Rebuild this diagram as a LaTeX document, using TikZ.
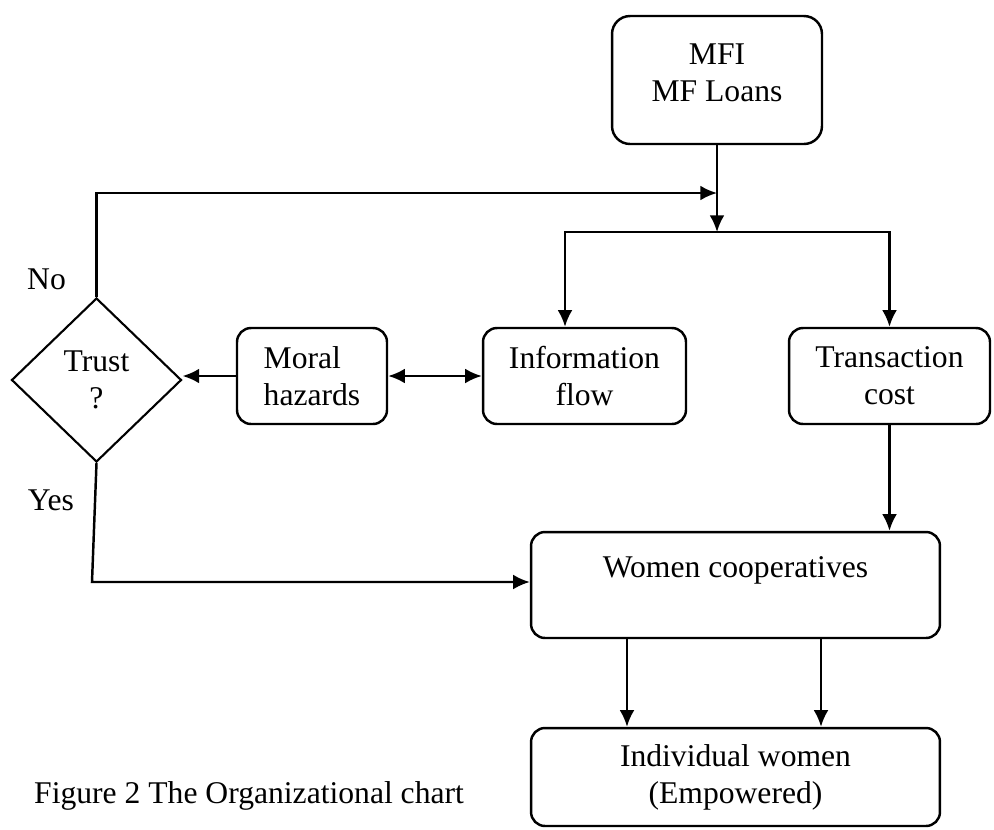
\documentclass[tikz,border=0pt]{standalone}
\usepackage{fontspec}
\setmainfont{Liberation Serif}
\usetikzlibrary{shapes.geometric,calc,arrows.meta}

\begin{document}
\begin{tikzpicture}[x=0.02cm,y=-0.02cm,
    box/.style={draw,line width=1.4pt,rounded corners=0.28cm,align=center,inner sep=0pt,font=\fontsize{18}{21}\selectfont},
    decision/.style={draw,diamond,line width=1.2pt,align=center,inner sep=0pt,minimum width=3.4cm,minimum height=3.28cm,font=\fontsize{18}{21}\selectfont},
    txt/.style={font=\fontsize{18}{21}\selectfont},
    arr/.style={line width=1.4pt,->,>={Latex[length=9.5pt,width=8.5pt]}},
    dblarr/.style={line width=1.4pt,<->,>={Latex[length=9.5pt,width=8.5pt]}},
]
\useasboundingbox (0,0) rectangle (994,829);

%%%%%%%%%%%%%%%% boxes

\node[box,rounded corners=0.36cm,minimum width=4.2cm,minimum height=2.56cm] (mfi) at (717,80) {MFI\\MF Loans\\[-12.5pt]};

\node[box,minimum width=4.06cm,minimum height=1.92cm] (info) at (584.5,376) {Information\\flow};
\node[box,minimum width=4.02cm,minimum height=1.92cm] (trans) at (889.5,376) {Transaction\\cost};
\node[box,align=left,minimum width=3cm,minimum height=1.92cm] (moral) at (312,376) {Moral\\hazards};
\node[decision] (trust) at (96.5,380) {Trust\\?};

\node[box,minimum width=8.18cm,minimum height=2.12cm,text height=12pt,text depth=21pt] (women) at (735.5,585) {Women cooperatives};
\node[box,minimum width=8.18cm,minimum height=1.96cm] (indiv) at (735.5,777) {Individual women\\(Empowered)};

%% labels
\node[txt] (no) at (46.5,279) {No};
\node[txt] (yes) at (51,500) {Yes};
\node[txt,anchor=base west] (caption) at (28,803) {Figure 2 The Organizational chart};

%%%%%%%%%%%%%%%% connectors

\coordinate (split) at (717,232);
\coordinate (back) at (717,193);
\coordinate (yesturn) at (92,582);

\draw[arr] (mfi.south) -- (split);
\draw[arr] (split) -| ($(info.north)+(-19.5,0)$);
\draw[arr] (split) -| (trans.north);

%% trust loop
\draw[arr] (trust.north) |- (back);
\draw[arr] (trust.south) -- (yesturn) -- (yesturn -| women.west);

\draw[arr] (moral.west) -- (moral.west -| trust.east);
\draw[dblarr] (moral.east) -- (info.west);

\draw[arr] (trans.south) -- (trans.south |- women.north);
\draw[arr] ($(women.south)+(-108.5,0)$) -- ($(indiv.north)+(-108.5,0)$);
\draw[arr] ($(women.south)+(85.5,0)$) -- ($(indiv.north)+(85.5,0)$);

\end{tikzpicture}
\end{document}
